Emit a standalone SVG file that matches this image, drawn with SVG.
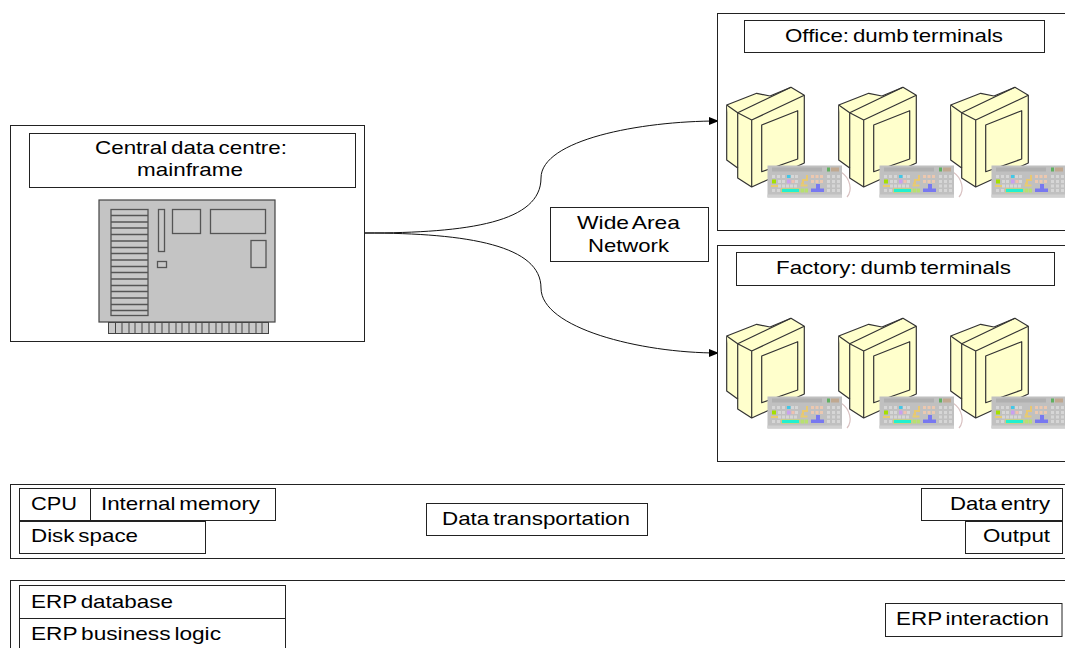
<svg xmlns="http://www.w3.org/2000/svg" width="1065" height="648" viewBox="0 0 1065 648">
<style>
.box{fill:#fff;stroke:#222;stroke-width:1}
.t{font-family:"Liberation Sans",Arial,sans-serif;font-size:19px;fill:#000;word-spacing:-2px}
.m{text-anchor:middle}
.mon{fill:#ffffcc;stroke:#333;stroke-width:1.2;stroke-linejoin:round}
.pcb{fill:#c4c4c4;stroke:#444;stroke-width:1.2}
.pc2{fill:#c8c8c8;stroke:#555;stroke-width:1.3}
.conn{fill:none;stroke:#111;stroke-width:1}
.k{fill:#d6d6d6}
</style>
<defs>
<filter id="soft" x="-5%" y="-5%" width="110%" height="110%"><feGaussianBlur stdDeviation="0.45"/></filter>
<marker id="arrow" markerWidth="10" markerHeight="8" refX="9" refY="4" orient="auto" markerUnits="userSpaceOnUse"><path d="M0 0L10 4L0 8Z" fill="#000"/></marker>
<g id="terminal">
<path class="mon" d="M726.7 105L756.7 93.3L770 96L791 87.3L804.3 95.3V163L751.7 187L737.7 178V168L726.7 160Z"/>
<path class="mon" d="M726.7 105L737.7 112.7V168M737.7 112.7L791 87.3M737.7 112.7L751.7 120L804.3 95.3M751.7 120V187"/>
<path class="mon" d="M761.7 125L797.7 110.7V159L761.7 171.7Z"/>
<g filter="url(#soft)">
<path d="M841 172C850 178 853 190 847 197" fill="none" stroke="#d8c0c0" stroke-width="1.2"/>
<rect x="767.500" y="165.500" width="74.500" height="32" fill="#c0c0c0"/>
<rect x="767.500" y="194.500" width="74.500" height="3" fill="#d0d0d0"/>
<rect x="772" y="167.500" width="50" height="4" fill="#b0b0b0"/>
<rect x="827" y="167.500" width="3" height="4" fill="#60b060"/>
<rect x="831" y="167.500" width="8" height="4" fill="#c0a890"/>
<g class="k">
<rect x="772" y="175" width="3" height="3"/><rect x="777" y="175" width="3" height="3"/><rect x="782" y="175" width="3" height="3"/><rect x="791" y="175" width="3" height="3"/><rect x="795" y="175" width="3" height="3"/>
<rect x="778" y="180" width="3" height="3"/><rect x="782" y="180" width="3" height="3"/><rect x="795" y="180" width="3" height="3"/>
<rect x="778" y="184.500" width="3" height="3"/><rect x="782" y="184.500" width="3" height="3"/><rect x="786" y="184.500" width="3" height="3"/><rect x="790" y="184.500" width="3" height="3"/><rect x="794" y="184.500" width="3" height="3"/>
<rect x="772" y="189" width="3" height="3"/><rect x="777" y="189" width="3" height="3"/>
<rect x="827" y="175" width="3" height="3"/><rect x="832" y="175" width="3" height="3"/><rect x="837" y="175" width="3" height="3"/>
<rect x="827" y="180" width="3" height="3"/><rect x="832" y="180" width="3" height="3"/><rect x="837" y="180" width="3" height="3"/>
<rect x="827" y="184.500" width="3" height="3"/><rect x="832" y="184.500" width="3" height="3"/><rect x="837" y="184.500" width="3" height="3"/>
<rect x="827" y="189" width="3" height="3"/><rect x="832" y="189" width="3" height="3"/><rect x="837" y="189" width="3" height="3"/>
</g>
<rect x="772" y="179.500" width="4" height="4" fill="#a4e000"/>
<rect x="771" y="185" width="7" height="2" fill="#e8cc70"/>
<rect x="787" y="175" width="3.500" height="3" fill="#40c8e8"/>
<rect x="787" y="179.500" width="3.500" height="4" fill="#c8a0f0"/>
<rect x="791.500" y="180" width="3" height="3" fill="#f0c0b0"/>
<path d="M807 175V180H803V183.500H801" fill="none" stroke="#e8c870" stroke-width="2"/>
<rect x="800.500" y="184.500" width="7" height="2" fill="#e8cc70"/>
<g fill="#ecc8b0">
<rect x="811" y="175" width="3" height="3"/><rect x="815.500" y="175" width="3" height="3"/><rect x="820" y="175" width="3" height="3"/>
<rect x="811" y="180" width="3" height="3"/><rect x="815.500" y="180" width="3" height="3"/><rect x="820" y="180" width="3" height="3"/>
</g>
<rect x="781.500" y="188.500" width="18" height="4" fill="#20f0d0" stroke="#e8cc70" stroke-width=".7"/>
<rect x="800.500" y="188.500" width="3.500" height="4" fill="#b8e070"/><rect x="804.500" y="188.500" width="3.500" height="4" fill="#b8e070"/>
<path d="M816 184H820V188.500H824V192H811V188.500H816Z" fill="#7878f0"/>
</g>
</g>
</defs>

<g id="connectors">
<path class="conn" marker-end="url(#arrow)" d="M365 233C470 233 541 222 541 178C541 140 640 121 718 121"/>
<path class="conn" marker-end="url(#arrow)" d="M365 233C470 233 541 246 541 288C541 328 640 353 718 353"/>
</g>

<g id="central">
<rect class="box" x="10.500" y="125.500" width="354" height="216"/>
<rect class="box" x="29.500" y="133.500" width="326" height="54"/>
<text class="t m" x="191" y="154" textLength="192" lengthAdjust="spacingAndGlyphs">Central data centre:</text>
<text class="t m" x="190" y="176" textLength="106" lengthAdjust="spacingAndGlyphs">mainframe</text>
<g id="mainframe">
<rect class="pcb" x="99" y="200" width="176" height="122"/>
<rect x="108.500" y="322.500" width="160" height="11" fill="#c8c8c8" stroke="#444"/>
<path d="M115.500 322V333M122 322V333M129 322V333M135 322V333M142 322V333M149 322V333M155 322V333M162 322V333M169 322V333M176 322V333M182 322V333M189 322V333M196 322V333M202 322V333M209 322V333M216 322V333M222 322V333M229 322V333M236 322V333M242 322V333M249 322V333M256 322V333M262 322V333" stroke="#444" fill="none"/>
<rect class="pc2" x="111" y="209.500" width="37" height="106"/>
<path class="pc2" d="M111 215.500H148M111 222H148M111 228H148M111 234.500H148M111 241H148M111 247.500H148M111 253.500H148M111 260H148M111 266.500H148M111 272.500H148M111 279H148M111 285.500H148M111 291.500H148M111 298H148M111 304.500H148M111 310.500H148"/>
<rect class="pc2" x="158.500" y="209.500" width="6" height="42"/>
<rect class="pc2" x="157.500" y="261.500" width="9" height="6"/>
<rect class="pc2" x="172.500" y="209.500" width="28" height="24"/>
<rect class="pc2" x="210.500" y="209.500" width="55" height="24"/>
<rect class="pc2" x="251" y="240.500" width="15" height="27"/>
</g>
</g>

<g id="wan">
<rect class="box" x="550.500" y="207.500" width="158" height="54"/>
<text class="t m" x="628.500" y="229" textLength="103" lengthAdjust="spacingAndGlyphs">Wide Area</text>
<text class="t m" x="628.500" y="252" textLength="81" lengthAdjust="spacingAndGlyphs">Network</text>
</g>

<g id="office">
<rect class="box" x="717.500" y="13.500" width="360" height="217"/>
<rect class="box" x="744.500" y="20.500" width="300" height="32"/>
<text class="t m" x="894" y="42" textLength="218" lengthAdjust="spacingAndGlyphs">Office: dumb terminals</text>
<use href="#terminal"/><use href="#terminal" x="112"/><use href="#terminal" x="224"/>
</g>

<g id="factory">
<rect class="box" x="717.500" y="245.500" width="360" height="216"/>
<rect class="box" x="736.500" y="252.500" width="318" height="33"/>
<text class="t m" x="893.500" y="274" textLength="235" lengthAdjust="spacingAndGlyphs">Factory: dumb terminals</text>
<use href="#terminal" y="231"/><use href="#terminal" x="112" y="231"/><use href="#terminal" x="224" y="231"/>
</g>

<g id="infrastructure">
<rect class="box" x="10.500" y="484.500" width="1070" height="74"/>
<rect class="box" x="19.500" y="488.500" width="71" height="32"/>
<text class="t" x="31" y="510" textLength="46" lengthAdjust="spacingAndGlyphs">CPU</text>
<rect class="box" x="90.500" y="488.500" width="185" height="32"/>
<text class="t" x="101" y="510" textLength="159" lengthAdjust="spacingAndGlyphs">Internal memory</text>
<rect class="box" x="19.500" y="521.500" width="186" height="32"/>
<text class="t" x="31" y="542" textLength="107" lengthAdjust="spacingAndGlyphs">Disk space</text>
<rect class="box" x="426.500" y="503.500" width="221" height="32"/>
<text class="t m" x="536" y="525" textLength="188" lengthAdjust="spacingAndGlyphs">Data transportation</text>
<rect class="box" x="921.500" y="488.500" width="141" height="32"/>
<text class="t" x="950" y="510" textLength="100" lengthAdjust="spacingAndGlyphs">Data entry</text>
<rect class="box" x="965.500" y="521.500" width="97" height="32"/>
<text class="t" x="983" y="542" textLength="67" lengthAdjust="spacingAndGlyphs">Output</text>
</g>

<g id="erp">
<rect class="box" x="10.500" y="580.500" width="1070" height="90"/>
<rect class="box" x="19.500" y="585.500" width="266" height="33"/>
<text class="t" x="31" y="608" textLength="142" lengthAdjust="spacingAndGlyphs">ERP database</text>
<rect class="box" x="19.500" y="618.500" width="266" height="40"/>
<text class="t" x="31" y="640" textLength="190" lengthAdjust="spacingAndGlyphs">ERP business logic</text>
<rect class="box" x="885.500" y="603.500" width="176.500" height="33"/>
<text class="t" x="896" y="625" textLength="153" lengthAdjust="spacingAndGlyphs">ERP interaction</text>
</g>
</svg>
